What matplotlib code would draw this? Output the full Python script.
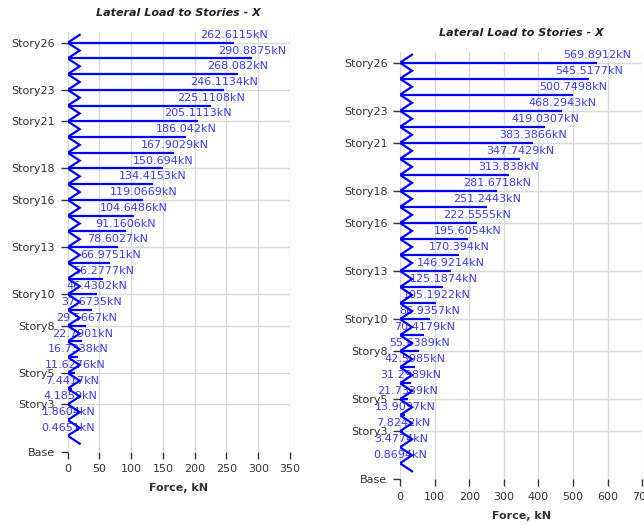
import matplotlib
matplotlib.use("Agg")
import matplotlib.pyplot as plt
import numpy as np

plt.rcParams['font.family'] = ['DejaVu Sans']

# Story levels (0 = Base, 26 = Story26) and the levels that carry a label
story_levels = list(range(0, 27))
tick_levels = [0, 3, 5, 8, 10, 13, 16, 18, 21, 23, 26]
tick_labels = ["Base", "Story3", "Story5", "Story8", "Story10", "Story13",
               "Story16", "Story18", "Story21", "Story23", "Story26"]

# Lateral forces from Story26 down to Story1 (kN)
forces_left = [262.6115, 290.8875, 268.082, 246.1134, 225.1108, 205.1113,
               186.042, 167.9029, 150.694, 134.4153, 119.0669, 104.6486,
               91.1606, 78.6027, 66.9751, 56.2777, 46.4302, 37.6735,
               29.5667, 22.7901, 16.7338, 11.6276, 7.4417, 4.1859,
               1.8604, 0.4651]
forces_right = [569.8912, 545.5177, 500.7498, 468.2943, 419.0307, 383.3866,
                347.7429, 313.838, 281.6718, 251.2443, 222.5555, 195.6054,
                170.394, 146.9214, 125.1874, 105.1922, 86.9357, 70.4179,
                55.6389, 42.5985, 31.2989, 21.7339, 13.9097, 7.8242,
                3.4774, 0.8694]

x_ticks_left = [0, 50, 100, 150, 200, 250, 300, 350]
x_ticks_right = [0, 100, 200, 300, 400, 500, 600, 700]

title_text = "Lateral Load to Stories - X"
xlabel_text = "Force, kN"

W, H = 644, 525
fig = plt.figure(figsize=(W / 100, H / 100), dpi=100)
fig.patch.set_facecolor("white")

LINE = "#0000ff"
LABEL = "#3a3aff"
GRID = "#d9d9d9"
TXT = "#333333"


def px_rect(x0, x1, ytop, ybot):
    return [x0 / W, 1 - ybot / H, (x1 - x0) / W, (ybot - ytop) / H]


def draw_panel(rect, forces, xticks, ytop_extra, title_y, xlabel_y):
    ax = fig.add_axes(rect)
    xmax = xticks[-1]
    ax.set_xlim(0, xmax)
    ax.set_ylim(0, 26 + ytop_extra)
    for s in ax.spines.values():
        s.set_visible(False)
    ax.set_xticks(xticks)
    ax.set_xticklabels([str(t) for t in xticks])
    ax.set_yticks(tick_levels)
    ax.set_yticklabels(tick_labels)
    ax.tick_params(axis="both", labelsize=8, colors=TXT, length=5, width=1,
                   direction="out", pad=4)
    ax.grid(True, color=GRID, linewidth=1.0)
    ax.set_axisbelow(True)
    # no horizontal grid line at the base level
    for lvl, gl in zip(tick_levels, ax.get_ygridlines()):
        if lvl == 0:
            gl.set_visible(False)

    # arrow width of the chevrons in data units (about 12 px)
    ax_w_px = rect[2] * W
    dx = 12 * xmax / ax_w_px

    levels = np.arange(26, 0, -1)
    for lvl, f in zip(levels, forces):
        ax.plot([0, f], [lvl, lvl], color=LINE, lw=1.6, solid_capstyle="butt",
                zorder=3)
        ax.text(f, lvl + 0.5, f"{f}kN", ha="center", va="center",
                fontsize=8, color=LABEL, zorder=2)

    # chained arrowheads pointing at the story axis
    zx, zy = [dx], [26.5]
    for lvl in levels:
        zx += [0, dx]
        zy += [lvl, lvl - 0.5]
    ax.plot(zx, zy, color=LINE, lw=1.6, zorder=4, solid_joinstyle="miter")

    cx = rect[0] + rect[2] / 2
    fig.text(cx, 1 - title_y / H, title_text, ha="center", va="center",
             fontsize=8, fontweight="bold", fontstyle="italic", color="#222222")
    fig.text(cx, 1 - xlabel_y / H, xlabel_text, ha="center", va="center",
             fontsize=8, fontweight="bold", color=TXT)
    return ax


draw_panel(px_rect(67.7, 290.0, 32.0, 451.5), forces_left, x_ticks_left,
           10.7 / 15.72, 13, 488)
draw_panel(px_rect(400.0, 642.3, 52.3, 479.3), forces_right, x_ticks_right,
           10.4 / 16.02, 33, 516)

fig.savefig("out.png", dpi=100, facecolor="white")
